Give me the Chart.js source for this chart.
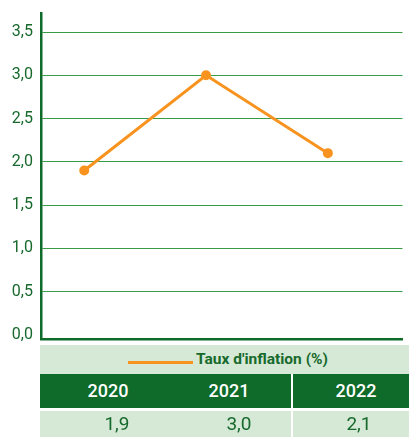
<!DOCTYPE html>
<html>
<head>
<meta charset="utf-8">
<script src="https://cdn.jsdelivr.net/npm/chart.js@4"></script>
<style>
  body { margin: 0; background: #fff; font-family: Roboto, sans-serif; }
  #wrap { position: absolute; left: 0; top: 0; width: 409px; height: 346px; }
  .band { position: absolute; left: 40px; width: 369px; }
  #legend { top: 345px; height: 29px; background: #d5e9d6; }
  #legend .swatch { position: absolute; left: 88px; top: 16px; width: 65px; height: 3px; background: #f7931e; }
  #legend .label { position: absolute; left: 156px; top: 5px; font-size: 15.5px; font-weight: bold; color: #17692c; white-space: nowrap; }
  #head { top: 374px; height: 34px; background: #0e6b2a; }
  #vals { top: 411px; height: 26px; background: #d5e9d6; }
  .cell { position: absolute; width: 100px; text-align: center; }
  #head .cell { top: 6px; font-size: 18px; font-weight: 500; color: #fff; }
  #vals .cell { top: 1px; font-size: 19px; color: #17692c; }
  .div { position: absolute; left: 251px; top: 0; width: 2px; height: 100%; background: #fff; }
</style>
</head>
<body>
<div id="wrap"><canvas id="inflChart"></canvas></div>
<div id="legend" class="band"><div class="swatch"></div><div class="label"></div></div>
<div id="head" class="band"><div class="div"></div></div>
<div id="vals" class="band"><div class="div"></div></div>
<script>
const years = [2020, 2021, 2022];
const inflation = [1.9, 3.0, 2.1];
const yTicks = [0, 0.5, 1, 1.5, 2, 2.5, 3, 3.5];
const seriesLabel = "Taux d'inflation (%)";

const fmt = v => v.toFixed(1).replace('.', ',');
const dark = '#17692c';

// table under the chart
const headCenters = [68, 189, 316];
const valCenters = [77, 199, 319];
document.querySelector('#legend .label').textContent = seriesLabel;
years.forEach((y, i) => {
    const h = document.createElement('div');
    h.className = 'cell';
    h.style.left = (headCenters[i] - 50) + 'px';
    h.textContent = y;
    document.getElementById('head').appendChild(h);

    const v = document.createElement('div');
    v.className = 'cell';
    v.style.left = (valCenters[i] - 50) + 'px';
    v.textContent = fmt(inflation[i]);
    document.getElementById('vals').appendChild(v);
});

const ctx = document.getElementById('inflChart');
new Chart(ctx, {
    type: 'line',
    data: {
        datasets: [{
            label: seriesLabel,
            data: years.map((y, i) => ({ x: y, y: inflation[i] })),
            borderColor: '#f7931e',
            backgroundColor: '#f7931e',
            borderWidth: 3,
            pointRadius: 3.5,
            pointHoverRadius: 3.5,
            tension: 0
        }]
    },
    options: {
        responsive: true,
        maintainAspectRatio: false,
        animation: false,
        layout: { padding: { top: 13, right: 0, bottom: 3, left: 0 } },
        plugins: { legend: { display: false }, tooltip: { enabled: false } },
        scales: {
            x: {
                type: 'linear',
                min: 2019.645,
                max: 2022.613,
                ticks: { display: false },
                grid: { display: false },
                border: { display: true, color: '#0e6b2a', width: 2.5 },
                afterFit: s => { s.height = 1; s.paddingLeft = 0; s.paddingRight = 0; }
            },
            y: {
                min: -0.054,
                max: 3.72,
                afterBuildTicks: s => { s.ticks = yTicks.map(v => ({ value: v })); },
                afterFit: s => { s.width = 41; s.paddingTop = 0; s.paddingBottom = 0; },
                ticks: {
                    padding: 8,
                    color: dark,
                    font: { family: 'Roboto', size: 16 },
                    callback: v => fmt(v)
                },
                grid: {
                    drawTicks: false,
                    color: c => (c.tick && c.tick.value === 0) ? 'rgba(0,0,0,0)' : '#3a9b47',
                    lineWidth: 1
                },
                border: { display: true, color: '#0e6b2a', width: 2.5 }
            }
        }
    }
});
</script>
</body>
</html>
